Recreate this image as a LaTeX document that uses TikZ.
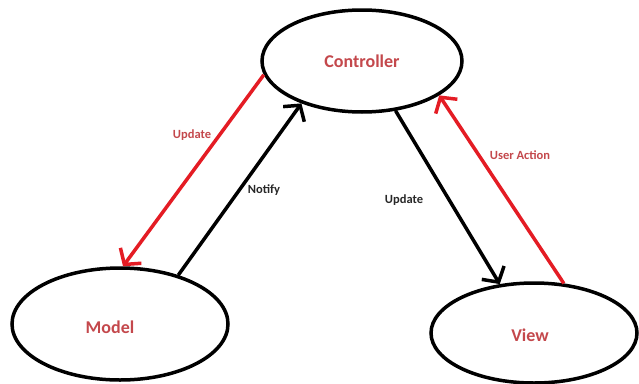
\documentclass[tikz,border=0pt]{standalone}
\usepackage{fontspec}
\setmainfont{Carlito}
\usetikzlibrary{shapes.geometric,arrows.meta}
\definecolor{lineRed}{RGB}{228,28,36}
\definecolor{textRed}{RGB}{196,72,76}
\definecolor{textDark}{RGB}{40,40,40}
\tikzset{
  state/.style={ellipse, draw=black, line width=3.5pt, inner sep=0pt, fill=white},
  statetext/.style={inner sep=1pt, font=\fontsize{18}{20}\selectfont\bfseries, text=textRed},
  link/.style={line width=3.5pt, -{Straight Barb[length=11pt,width=26pt]}},
  lbl/.style={font=\fontsize{12.5}{14}\selectfont\bfseries, inner sep=1pt}
}
\begin{document}
\begin{tikzpicture}[x=1pt,y=-1pt]
\fill[white] (0,0) rectangle (639,383);
\useasboundingbox (0,0) rectangle (639,383);
\node[state, minimum width=200pt, minimum height=102pt] (ctrl) at (362,61) {};
\node[statetext] (ctext) at (362,61) {Controller};
\node[state, minimum width=216pt, minimum height=112pt] (model) at (120,324) {};
\node[statetext] (mtext) at (110,327) {Model};
\node[state, minimum width=206pt, minimum height=100pt] (view) at (534,333) {};
\node[statetext] (vtext) at (530,335) {View};
\draw[link, lineRed] (ctrl.188) -- (model.87);
\draw[link, black] (model.40) -- (ctrl.215);
\draw[link, black] (ctrl.304) -- (view.125);
\draw[link, lineRed] (view.59) -- (ctrl.336);
\node[lbl, text=textRed] (lup) at (192,135) {Update};
\node[lbl, text=textDark] (lno) at (264,190) {Notify};
\node[lbl, text=textDark] (lvu) at (404,200) {Update};
\node[lbl, text=textRed] (lua) at (520,155) {User Action};
\end{tikzpicture}
\end{document}
